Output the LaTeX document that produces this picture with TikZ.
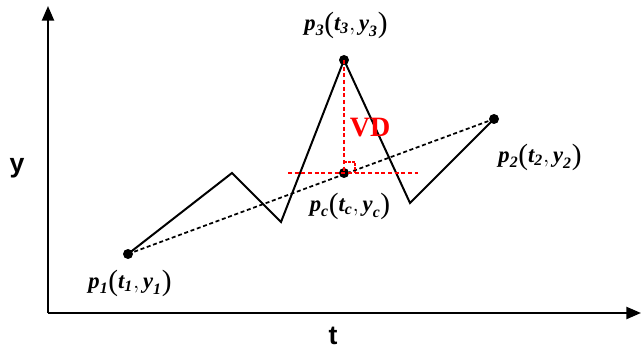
\documentclass[tikz,border=0pt]{standalone}
\usepackage{amsmath}
\usepackage{fontspec}
\newfontfamily\axisfont{Liberation Sans}
\newfontfamily\vdfont{Liberation Serif}
\newfontfamily\lblfont{Liberation Serif}
\usetikzlibrary{arrows.meta}
\newcommand{\bi}[1]{\text{\lblfont\bfseries\itshape #1}}
\newcommand{\bigpar}[1]{\text{\raisebox{-1.5pt}{\lblfont\fontsize{22}{22}\selectfont #1}}}
\newcommand{\ptlabel}[1]{$\bi{p}_{\bi{#1}}\bigpar{(}\bi{t}_{\bi{#1}},\bi{y}_{\bi{#1}}\bigpar{)}$}
\tikzset{
  axis/.style={line width=1.7pt,-{Triangle[length=11pt,width=9pt]}},
  curve/.style={line width=1.5pt,line join=miter},
  dotpt/.style={circle,fill=black,inner sep=0pt,minimum size=7.5pt},
  lbl/.style={font=\fontsize{17}{20}\selectfont,inner sep=0pt,text height=12pt,text depth=4pt},
  axlbl/.style={font=\axisfont\bfseries\fontsize{20}{24}\selectfont},
  reddash/.style={red,line width=1.3pt,dash pattern=on 3pt off 2pt},
}
\begin{document}
\begin{tikzpicture}[x=0.75pt,y=-0.75pt]
\useasboundingbox (0,0) rectangle (641,352);
% axes
\coordinate (O) at (48,313);
\coordinate (Ytip) at (48,6);
\coordinate (Xtip) at (641,313);
\draw[axis] (O) -- (Ytip);
\draw[axis] (O) -- (Xtip);
\node[axlbl] (ylab) at (17,168) {y};
\node[axlbl] (tlab) at (333,336) {t};
% points
\node[dotpt] (p1) at (128,254) {};
\node[dotpt] (p2) at (494,119) {};
\node[dotpt] (p3) at (344,60) {};
\node[dotpt] (pc) at (344,173) {};
\coordinate (a) at (232,173);
\coordinate (b) at (281,222);
\coordinate (c) at (410,203);
\draw[curve] (p1.center) -- (a) -- (b) -- (p3.center) -- (c) -- (p2.center);
\draw[line width=1.3pt,dash pattern=on 3pt off 2pt] (p1.center) -- (p2.center);
% red construction
\coordinate (hl) at (288,173);
\coordinate (hr) at (418,173);
\draw[reddash] (hl) -- (hr);
\draw[reddash] (p3.center) -- (pc.center);
\draw[red,line width=0.9pt,dash pattern=on 2pt off 1pt] (344,162) -- (355,162) -- (355,173);
\node[red,font=\vdfont\bfseries\fontsize{21}{24}\selectfont] (vd) at (370,128) {VD};
% labels
\node[lbl] (l3) at (346,25) {\ptlabel{3}};
\node[lbl] (l1) at (130,283) {\ptlabel{1}};
\node[lbl] (l2) at (540,157) {\ptlabel{2}};
\node[lbl] (lc) at (350,206) {\ptlabel{c}};
\end{tikzpicture}
\end{document}
